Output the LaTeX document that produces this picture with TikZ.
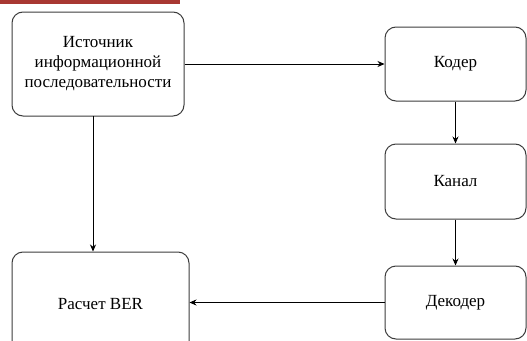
\documentclass[tikz,border=0pt]{standalone}
\usepackage{fontspec}
\setmainfont{Liberation Serif}
\usetikzlibrary{arrows.meta}
\definecolor{barred}{RGB}{168,56,50}
\definecolor{boxline}{RGB}{60,60,60}
\begin{document}
\begin{tikzpicture}[x=1pt,y=-1pt,
  blk/.style={draw=boxline,line width=1pt,rounded corners=11pt,fill=white,
    inner sep=0pt,align=center,font=\fontsize{17}{20}\selectfont},
  conn/.style={draw=black,line width=0.75pt,-{Stealth[length=7pt,width=6pt]}}]
\useasboundingbox (0,0) rectangle (527,340);
\clip (0,0) rectangle (527,340);
\fill[white] (0,0) rectangle (527,340);
\fill[barred] (0,0) rectangle (180,3.5);
\node[blk,minimum width=172pt,minimum height=104pt] (src) at (98,64)
  {Источник\\информационной\\последовательности};
\node[blk,minimum width=141pt,minimum height=74pt] (cod) at (455.5,64) {Кодер};
\node[blk,minimum width=141pt,minimum height=75pt] (kan) at (455.5,181.5) {Канал};
\node[blk,minimum width=141pt,minimum height=73pt] (dec) at (455.5,302.5) {Декодер};
\node[blk,minimum width=177pt,minimum height=104pt] (ber) at (100.5,304) {Расчет BER};
\coordinate (sb) at (93,116);
\draw[conn] (src.east) -- (cod.west);
\draw[conn] (sb) -- (sb |- ber.north);
\draw[conn] (cod.south) -- (kan.north);
\draw[conn] (kan.south) -- (dec.north);
\draw[conn] (dec.west) -- (dec.west -| ber.east);
\end{tikzpicture}
\end{document}
